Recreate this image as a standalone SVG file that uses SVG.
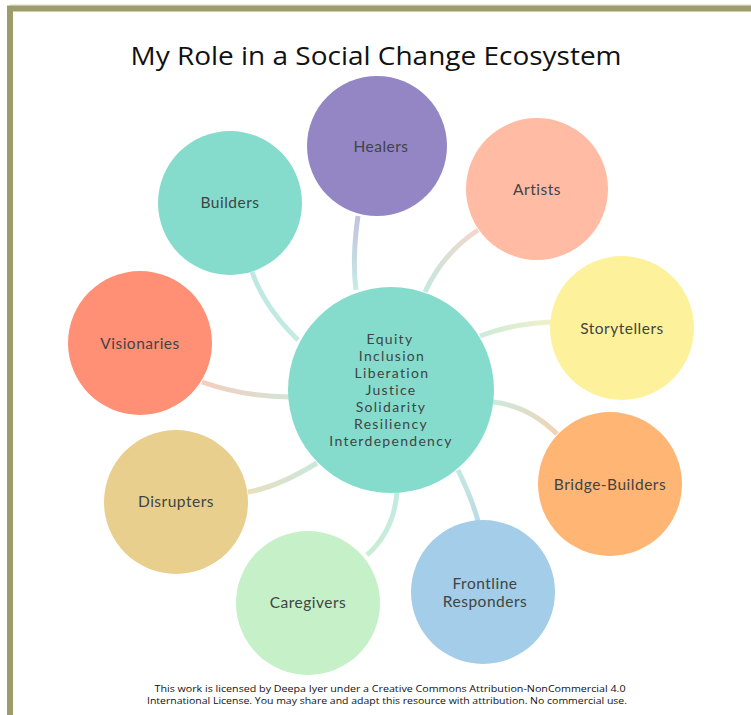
<svg xmlns="http://www.w3.org/2000/svg" width="751" height="715" viewBox="0 0 751 715">
  <style>
    .node { stroke: none; }
    .label { font-family: Lato, "Open Sans", "Liberation Sans", sans-serif; font-size: 15.5px; letter-spacing: 0.5px; fill: #3f4444; text-anchor: middle; }
    .core { font-family: Lato, "Open Sans", "Liberation Sans", sans-serif; font-size: 14px; letter-spacing: 1.3px; fill: #3f4444; text-anchor: middle; }
    .title { font-family: "Open Sans", "Liberation Sans", sans-serif; font-size: 26px; fill: #111; text-anchor: middle; }
    .foot { font-family: "Open Sans", "Liberation Sans", sans-serif; font-size: 9.5px; fill: #111; text-anchor: middle; }
    .link { fill: none; stroke-width: 5; stroke-linecap: butt; }
  </style>
  <defs>
    <linearGradient id="gHealers" gradientUnits="userSpaceOnUse" x1="358" y1="216" x2="356" y2="290">
      <stop offset="0" stop-color="#c4c1df"/><stop offset="1" stop-color="#c6ece4"/>
    </linearGradient>
    <linearGradient id="gArtists" gradientUnits="userSpaceOnUse" x1="478" y1="230" x2="425" y2="292">
      <stop offset="0" stop-color="#f3d6cb"/><stop offset="1" stop-color="#c4e9e0"/>
    </linearGradient>
    <linearGradient id="gBuilders" gradientUnits="userSpaceOnUse" x1="252" y1="272" x2="298" y2="340">
      <stop offset="0" stop-color="#bde8df"/><stop offset="1" stop-color="#c4ebe3"/>
    </linearGradient>
    <linearGradient id="gStory" gradientUnits="userSpaceOnUse" x1="551" y1="322" x2="480" y2="336">
      <stop offset="0" stop-color="#eff1c8"/><stop offset="1" stop-color="#cdeadb"/>
    </linearGradient>
    <linearGradient id="gVision" gradientUnits="userSpaceOnUse" x1="202" y1="382" x2="290" y2="397">
      <stop offset="0" stop-color="#f4cdc0"/><stop offset="1" stop-color="#d4e4d6"/>
    </linearGradient>
    <linearGradient id="gBridge" gradientUnits="userSpaceOnUse" x1="493" y1="402" x2="557" y2="434">
      <stop offset="0" stop-color="#cce9de"/><stop offset="1" stop-color="#f1d3b2"/>
    </linearGradient>
    <linearGradient id="gDisrupt" gradientUnits="userSpaceOnUse" x1="248" y1="492" x2="317" y2="463">
      <stop offset="0" stop-color="#e8dfbe"/><stop offset="1" stop-color="#c8e8dc"/>
    </linearGradient>
    <linearGradient id="gCare" gradientUnits="userSpaceOnUse" x1="397" y1="492" x2="367" y2="555">
      <stop offset="0" stop-color="#c2eae2"/><stop offset="1" stop-color="#c9eed6"/>
    </linearGradient>
    <linearGradient id="gFront" gradientUnits="userSpaceOnUse" x1="458" y1="470" x2="478" y2="521">
      <stop offset="0" stop-color="#c3e8e0"/><stop offset="1" stop-color="#bcdbe9"/>
    </linearGradient>
  </defs>

  <!-- frame -->
  <rect x="0" y="0" width="751" height="715" fill="#ffffff"/>
  <line x1="10" y1="5" x2="751" y2="5" stroke="#d9d9c8" stroke-width="1"/>
  <path d="M10 715 V8.5 H751" fill="none" stroke="#9d9d6b" stroke-width="6"/>

  <text class="title" x="376" y="65" textLength="491" lengthAdjust="spacingAndGlyphs">My Role in a Social Change Ecosystem</text>

  <!-- connectors -->
  <g id="connectors">
    <path class="link" stroke="url(#gHealers)" d="M358 216 Q352 258 356 290"/>
    <path class="link" stroke="url(#gArtists)" d="M478 230 Q443 253 425 292"/>
    <path class="link" stroke="url(#gBuilders)" d="M252 272 Q265 308 298 340"/>
    <path class="link" stroke="url(#gStory)" d="M551 322 Q511 324 480 336"/>
    <path class="link" stroke="url(#gVision)" d="M202 382 Q245 397 290 397"/>
    <path class="link" stroke="url(#gBridge)" d="M493 402 Q529 406 557 434"/>
    <path class="link" stroke="url(#gDisrupt)" d="M248 492 Q278 487 317 463"/>
    <path class="link" stroke="url(#gCare)" d="M397 492 Q394 531 367 555"/>
    <path class="link" stroke="url(#gFront)" d="M458 470 Q472 499 478 521"/>
  </g>

  <g id="healers">
    <circle class="node" cx="377" cy="146" r="70" fill="#9486c4"/>
    <text class="label" x="381" y="152">Healers</text>
  </g>
  <g id="artists">
    <circle class="node" cx="537" cy="189" r="71" fill="#ffbba3"/>
    <text class="label" x="537" y="195">Artists</text>
  </g>
  <g id="builders">
    <circle class="node" cx="230" cy="203" r="72" fill="#86dccc"/>
    <text class="label" x="230" y="208">Builders</text>
  </g>
  <g id="storytellers">
    <circle class="node" cx="622" cy="328" r="72" fill="#fdf29b"/>
    <text class="label" x="622" y="334">Storytellers</text>
  </g>
  <g id="visionaries">
    <circle class="node" cx="140" cy="343" r="72" fill="#ff8f75"/>
    <text class="label" x="140" y="349">Visionaries</text>
  </g>
  <g id="bridge-builders">
    <circle class="node" cx="610" cy="484" r="72" fill="#ffb574"/>
    <text class="label" x="610" y="490">Bridge-Builders</text>
  </g>
  <g id="disrupters">
    <circle class="node" cx="176" cy="502" r="72" fill="#e8cf8e"/>
    <text class="label" x="176" y="507">Disrupters</text>
  </g>
  <g id="caregivers">
    <circle class="node" cx="308" cy="603" r="72" fill="#c6f0c8"/>
    <text class="label" x="308" y="608">Caregivers</text>
  </g>
  <g id="frontline-responders">
    <circle class="node" cx="483" cy="592" r="72" fill="#a3cde8"/>
    <text class="label" x="485" y="589">Frontline</text>
    <text class="label" x="485" y="607">Responders</text>
  </g>

  <g id="core">
    <circle class="node" cx="391" cy="390" r="103" fill="#86dccc"/>
    <text class="core" x="390" y="344">Equity</text>
    <text class="core" x="392" y="361">Inclusion</text>
    <text class="core" x="392" y="378">Liberation</text>
    <text class="core" x="391" y="395">Justice</text>
    <text class="core" x="391" y="412">Solidarity</text>
    <text class="core" x="391" y="429">Resiliency</text>
    <text class="core" x="391" y="446">Interdependency</text>
  </g>

  <text class="foot" x="390" y="692" textLength="471" lengthAdjust="spacingAndGlyphs">This work is licensed by Deepa Iyer under a Creative Commons Attribution-NonCommercial 4.0</text>
  <text class="foot" x="387" y="704" textLength="480" lengthAdjust="spacingAndGlyphs">International License. You may share and adapt this resource with attribution. No commercial use.</text>
</svg>
